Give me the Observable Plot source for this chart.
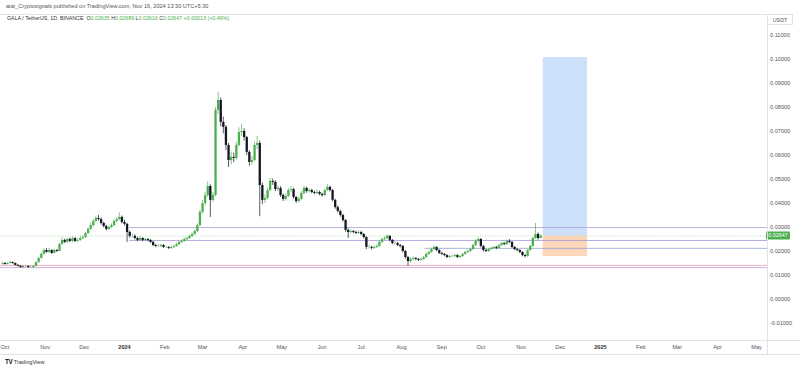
<!DOCTYPE html>
<html><head><meta charset="utf-8">
<script src="https://cdn.jsdelivr.net/npm/d3@7"></script>
<script src="https://cdn.jsdelivr.net/npm/@observablehq/plot@0.6"></script>
<style>
html,body{margin:0;padding:0;background:#fff;width:800px;height:370px;overflow:hidden;font-family:"Liberation Sans",Arial,sans-serif;}
#wrap{position:relative;width:800px;height:370px;}
#chart{position:absolute;left:0;top:0;}
.hdr{position:absolute;left:6px;top:3px;font-size:5.6px;color:#555;white-space:nowrap;}
.leg{position:absolute;left:7px;top:14.5px;font-size:5.3px;color:#333;white-space:nowrap;}
.leg .g{color:#4caf50;}
.usdt{position:absolute;left:767px;top:14px;width:26px;height:11px;border:1px solid #e0e3eb;box-sizing:border-box;font-size:5.4px;color:#555;text-align:center;line-height:10px;}
.vline{position:absolute;left:767px;top:14px;width:1px;height:340px;background:#e0e3eb;}
.hline{position:absolute;left:0;height:1px;background:#e0e3eb;}
.foot{position:absolute;left:5px;top:358px;font-size:5.6px;color:#333;white-space:nowrap;}
.foot b{font-size:6.4px;color:#131722;letter-spacing:-0.5px;margin-right:1.5px;}
</style>
</head><body>
<div id="wrap">
<div id="chart"></div>
<div class="hdr">atai_Cryptosignals published on TradingView.com, Nov 16, 2024 13:30 UTC+5:30</div>
<div class="leg">GALA / TetherUS, 1D, BINANCE&nbsp; O<span class="g">0.02635</span> H<span class="g">0.02689</span> L<span class="g">0.02616</span> C<span class="g">0.02647</span> <span class="g">+0.00013 (+0.49%)</span></div>
<div class="hline" style="top:14px;width:793px"></div>
<div class="hline" style="top:340px;width:800px"></div>
<div class="hline" style="top:354px;width:800px"></div>
<div class="vline"></div>
<div class="usdt">USDT</div>
<div class="foot"><b>TV</b>TradingView</div>
</div>
<script>
// ---- data ----
const startDate = "2023-09-29";
const stepDays = 2;
const firstOpen = 0.0148;
const closes = [
0.0150,0.0146,0.0150,0.0154,0.0150,0.0142,0.0138,0.0133,0.0138,0.0138,
0.0133,0.0133,0.0138,0.0154,0.0171,0.0188,0.0204,0.0196,0.0204,0.0192,
0.0204,0.0200,0.0229,0.0246,0.0238,0.0250,0.0242,0.0254,0.0242,0.0246,
0.0254,0.0258,0.0275,0.0292,0.0308,0.0325,0.0338,0.0333,0.0317,0.0304,
0.0292,0.0300,0.0308,0.0325,0.0333,0.0342,0.0321,0.0313,0.0279,0.0263,
0.0263,0.0254,0.0246,0.0254,0.0246,0.0250,0.0246,0.0238,0.0225,0.0221,
0.0221,0.0225,0.0217,0.0217,0.0213,0.0217,0.0221,0.0229,0.0238,0.0242,
0.0250,0.0254,0.0263,0.0271,0.0283,0.0308,0.0363,0.0400,0.0433,0.0471,
0.0413,0.0433,0.0788,0.0829,0.0738,0.0717,0.0642,0.0579,0.0592,0.0588,
0.0642,0.0696,0.0700,0.0675,0.0613,0.0571,0.0579,0.0642,0.0650,0.0475,
0.0413,0.0421,0.0454,0.0492,0.0488,0.0458,0.0463,0.0433,0.0417,0.0429,
0.0454,0.0458,0.0425,0.0408,0.0417,0.0442,0.0463,0.0450,0.0454,0.0446,
0.0442,0.0446,0.0438,0.0433,0.0454,0.0467,0.0454,0.0413,0.0383,0.0367,
0.0350,0.0329,0.0288,0.0279,0.0283,0.0279,0.0275,0.0279,0.0271,0.0258,
0.0217,0.0217,0.0213,0.0217,0.0221,0.0238,0.0250,0.0254,0.0263,0.0246,
0.0233,0.0233,0.0225,0.0221,0.0200,0.0175,0.0158,0.0167,0.0171,0.0167,
0.0163,0.0167,0.0175,0.0188,0.0196,0.0208,0.0217,0.0204,0.0192,0.0188,
0.0183,0.0175,0.0179,0.0179,0.0183,0.0175,0.0179,0.0188,0.0196,0.0200,
0.0208,0.0225,0.0242,0.0250,0.0221,0.0204,0.0200,0.0208,0.0213,0.0217,
0.0213,0.0225,0.0233,0.0229,0.0242,0.0238,0.0217,0.0208,0.0204,0.0196,
0.0183,0.0179,0.0204,0.0221,0.0254,0.0271,0.0254,0.02647];
const highs = [
0.0156,0.0155,0.0153,0.0160,0.0157,0.0152,0.0145,0.0141,0.0141,0.0142,
0.0140,0.0137,0.0140,0.0157,0.0175,0.0194,0.0210,0.0212,0.0213,0.0208,
0.0210,0.0209,0.0235,0.0258,0.0252,0.0257,0.0256,0.0262,0.0258,0.0253,
0.0261,0.0265,0.0280,0.0298,0.0318,0.0333,0.0348,0.0350,0.0340,0.0322,
0.0310,0.0306,0.0315,0.0332,0.0342,0.0361,0.0348,0.0330,0.0318,0.0285,
0.0272,0.0270,0.0260,0.0262,0.0258,0.0256,0.0254,0.0250,0.0242,0.0230,
0.0227,0.0230,0.0229,0.0222,0.0220,0.0221,0.0226,0.0234,0.0242,0.0248,
0.0256,0.0260,0.0268,0.0277,0.0290,0.0315,0.0372,0.0412,0.0446,0.0490,
0.0478,0.0445,0.0800,0.0863,0.0840,0.0760,0.0725,0.0650,0.0615,0.0610,
0.0655,0.0715,0.0730,0.0712,0.0680,0.0620,0.0595,0.0655,0.0680,0.0660,
0.0485,0.0435,0.0465,0.0505,0.0502,0.0495,0.0472,0.0470,0.0440,0.0438,
0.0462,0.0470,0.0463,0.0430,0.0425,0.0450,0.0472,0.0468,0.0462,0.0460,
0.0452,0.0456,0.0452,0.0443,0.0460,0.0478,0.0472,0.0458,0.0418,0.0390,
0.0372,0.0355,0.0333,0.0295,0.0290,0.0288,0.0285,0.0286,0.0284,0.0275,
0.0262,0.0225,0.0222,0.0224,0.0228,0.0244,0.0256,0.0262,0.0270,0.0266,
0.0250,0.0240,0.0238,0.0230,0.0225,0.0204,0.0180,0.0174,0.0178,0.0175,
0.0172,0.0173,0.0180,0.0193,0.0202,0.0214,0.0224,0.0220,0.0208,0.0197,
0.0192,0.0187,0.0184,0.0185,0.0188,0.0187,0.0184,0.0192,0.0200,0.0206,
0.0213,0.0230,0.0248,0.0258,0.0254,0.0225,0.0209,0.0213,0.0218,0.0222,
0.0221,0.0230,0.0238,0.0237,0.0247,0.0250,0.0241,0.0221,0.0212,0.0208,
0.0200,0.0188,0.0208,0.0226,0.0260,0.0317,0.0278,0.02689];
const lows = [
0.0144,0.0143,0.0144,0.0148,0.0147,0.0140,0.0136,0.0131,0.0131,0.0134,
0.0131,0.0130,0.0129,0.0136,0.0151,0.0168,0.0185,0.0192,0.0193,0.0188,
0.0190,0.0196,0.0198,0.0226,0.0233,0.0235,0.0237,0.0238,0.0237,0.0238,
0.0242,0.0250,0.0254,0.0271,0.0288,0.0302,0.0320,0.0327,0.0310,0.0298,
0.0285,0.0288,0.0295,0.0304,0.0320,0.0328,0.0315,0.0306,0.0238,0.0255,
0.0256,0.0248,0.0240,0.0242,0.0241,0.0243,0.0240,0.0234,0.0220,0.0216,
0.0216,0.0217,0.0213,0.0212,0.0208,0.0209,0.0213,0.0218,0.0225,0.0233,
0.0238,0.0246,0.0250,0.0258,0.0267,0.0279,0.0304,0.0355,0.0390,0.0425,
0.0342,0.0405,0.0428,0.0770,0.0720,0.0690,0.0620,0.0550,0.0560,0.0570,
0.0580,0.0635,0.0680,0.0660,0.0600,0.0555,0.0560,0.0575,0.0625,0.0345,
0.0395,0.0400,0.0415,0.0448,0.0475,0.0450,0.0450,0.0425,0.0408,0.0410,
0.0425,0.0446,0.0418,0.0400,0.0402,0.0412,0.0436,0.0443,0.0444,0.0440,
0.0436,0.0437,0.0432,0.0426,0.0430,0.0450,0.0448,0.0406,0.0376,0.0360,
0.0343,0.0322,0.0280,0.0254,0.0274,0.0273,0.0270,0.0271,0.0266,0.0252,
0.0208,0.0210,0.0207,0.0209,0.0213,0.0218,0.0234,0.0246,0.0250,0.0240,
0.0228,0.0227,0.0220,0.0215,0.0194,0.0168,0.0138,0.0152,0.0162,0.0161,
0.0158,0.0159,0.0163,0.0171,0.0184,0.0192,0.0204,0.0199,0.0187,0.0183,
0.0178,0.0170,0.0171,0.0174,0.0175,0.0171,0.0171,0.0175,0.0184,0.0192,
0.0196,0.0204,0.0221,0.0238,0.0215,0.0198,0.0195,0.0196,0.0204,0.0209,
0.0208,0.0210,0.0221,0.0224,0.0225,0.0233,0.0212,0.0203,0.0199,0.0191,
0.0178,0.0173,0.0176,0.0200,0.0218,0.0250,0.0248,0.02616];

const levelPrices = [0.0300, 0.0246, 0.0213, 0.0142, 0.0133];
const levelStarts = ["2024-01-05", "2024-01-05", "2024-08-19", "2023-09-20", "2023-09-20"];
const lastPrice = 0.02647;
const positionStart = "2024-11-18", positionEnd = "2024-12-22";
const positionTarget = 0.1008, positionEntry = 0.02647, positionStop = 0.0179;

const yTicks = [-0.01, 0, 0.01, 0.02, 0.03, 0.04, 0.05, 0.06, 0.07, 0.08, 0.09, 0.10, 0.11];
const monthTicks = ["2023-10-01","2023-11-01","2023-12-01","2024-01-01","2024-02-01","2024-03-01","2024-04-01","2024-05-01","2024-06-01","2024-07-01","2024-08-01","2024-09-01","2024-10-01","2024-11-01","2024-12-01","2025-01-01","2025-02-01","2025-03-01","2025-04-01","2025-05-01"];
const monthLabels = ["Oct","Nov","Dec","2024","Feb","Mar","Apr","May","Jun","Jul","Aug","Sep","Oct","Nov","Dec","2025","Feb","Mar","Apr","May"];

// ---- build ----
const day = 864e5;
const t0 = Date.parse(startDate);
const candles = closes.map((c, i) => ({
  date: new Date(t0 + i * stepDays * day),
  open: i ? closes[i - 1] : firstOpen,
  close: c, high: highs[i], low: lows[i]
}));
candles.forEach(d => d.up = d.close >= d.open);
const levels = levelPrices.map((p, i) => ({price: p, start: new Date(levelStarts[i])}));
const levelColors = ["#aa9edb", "#a396d8", "#97a3da", "#ea9bb7", "#c99ad3"];
const jan1 = Date.parse("2024-01-01");
const xStart = new Date(jan1 - 95.35 * day), xEnd = new Date(jan1 + 494.43 * day);
const tickDates = monthTicks.map(s => new Date(s));
const labelMap = new Map(tickDates.map((d, i) => [+d, monthLabels[i]]));
const UP = "#4caf50", DOWN = "#131722";

const chart = Plot.plot({
  width: 800, height: 370,
  marginLeft: 0, marginRight: 33, marginTop: 14, marginBottom: 31,
  style: {fontSize: "5.6px", fontFamily: "Liberation Sans, Arial, sans-serif", color: "#555", background: "transparent", overflow: "visible"},
  x: {type: "utc", domain: [xStart, xEnd], ticks: tickDates, tickFormat: d => labelMap.get(+d), tickSize: 0, tickPadding: 6, label: null},
  y: {domain: [-40 / 2400, 285 / 2400], ticks: yTicks, tickFormat: d => d3.format(".5f")(d).replace("\u2212", "-"), axis: "right", tickSize: 0, tickPadding: 2.5, label: null},
  marks: [
    Plot.rect([0], {x1: () => new Date(positionStart), x2: () => new Date(positionEnd), y1: () => positionEntry, y2: () => positionTarget, fill: "#cde0fa"}),
    Plot.rect([0], {x1: () => new Date(positionStart), x2: () => new Date(positionEnd), y1: () => positionStop, y2: () => positionEntry, fill: "#fcd6b8"}),
    Plot.ruleY([lastPrice], {stroke: "#a5d6a7", strokeDasharray: "1,1.5", strokeWidth: 0.8}),
    Plot.ruleY(levels, {y: "price", x1: "start", x2: () => xEnd, stroke: (d, i) => levelColors[i], strokeWidth: 0.8, clip: true}),
    Plot.ruleX(candles, {x: "date", y1: "low", y2: "high", stroke: d => d.up ? UP : DOWN, strokeWidth: 0.7, clip: true}),
    Plot.ruleX(candles, {x: "date", y1: "open", y2: "close", stroke: d => d.up ? UP : DOWN, strokeWidth: 2.3, clip: true})
  ]
});
document.getElementById("chart").appendChild(chart);

// bold year labels
d3.select(chart).selectAll("g[aria-label='x-axis tick label'] text").each(function() {
  const t = d3.select(this).text();
  if (t === "2024" || t === "2025") d3.select(this).attr("font-weight", "bold").attr("fill", "#333");
});
// last price label on the price axis
const ys = chart.scale("y");
const py = ys.apply(lastPrice);
const g = d3.select(chart).append("g");
g.append("rect").attr("x", 766).attr("y", py - 4).attr("width", 24).attr("height", 8).attr("fill", "#4caf50").attr("rx", 1);
g.append("text").attr("x", 778).attr("y", py).attr("dy", "0.35em").attr("text-anchor", "middle")
  .attr("fill", "#fff").attr("font-size", 5.4).attr("font-family", "Liberation Sans, Arial, sans-serif").text(d3.format(".5f")(lastPrice));
</script>
</body></html>
